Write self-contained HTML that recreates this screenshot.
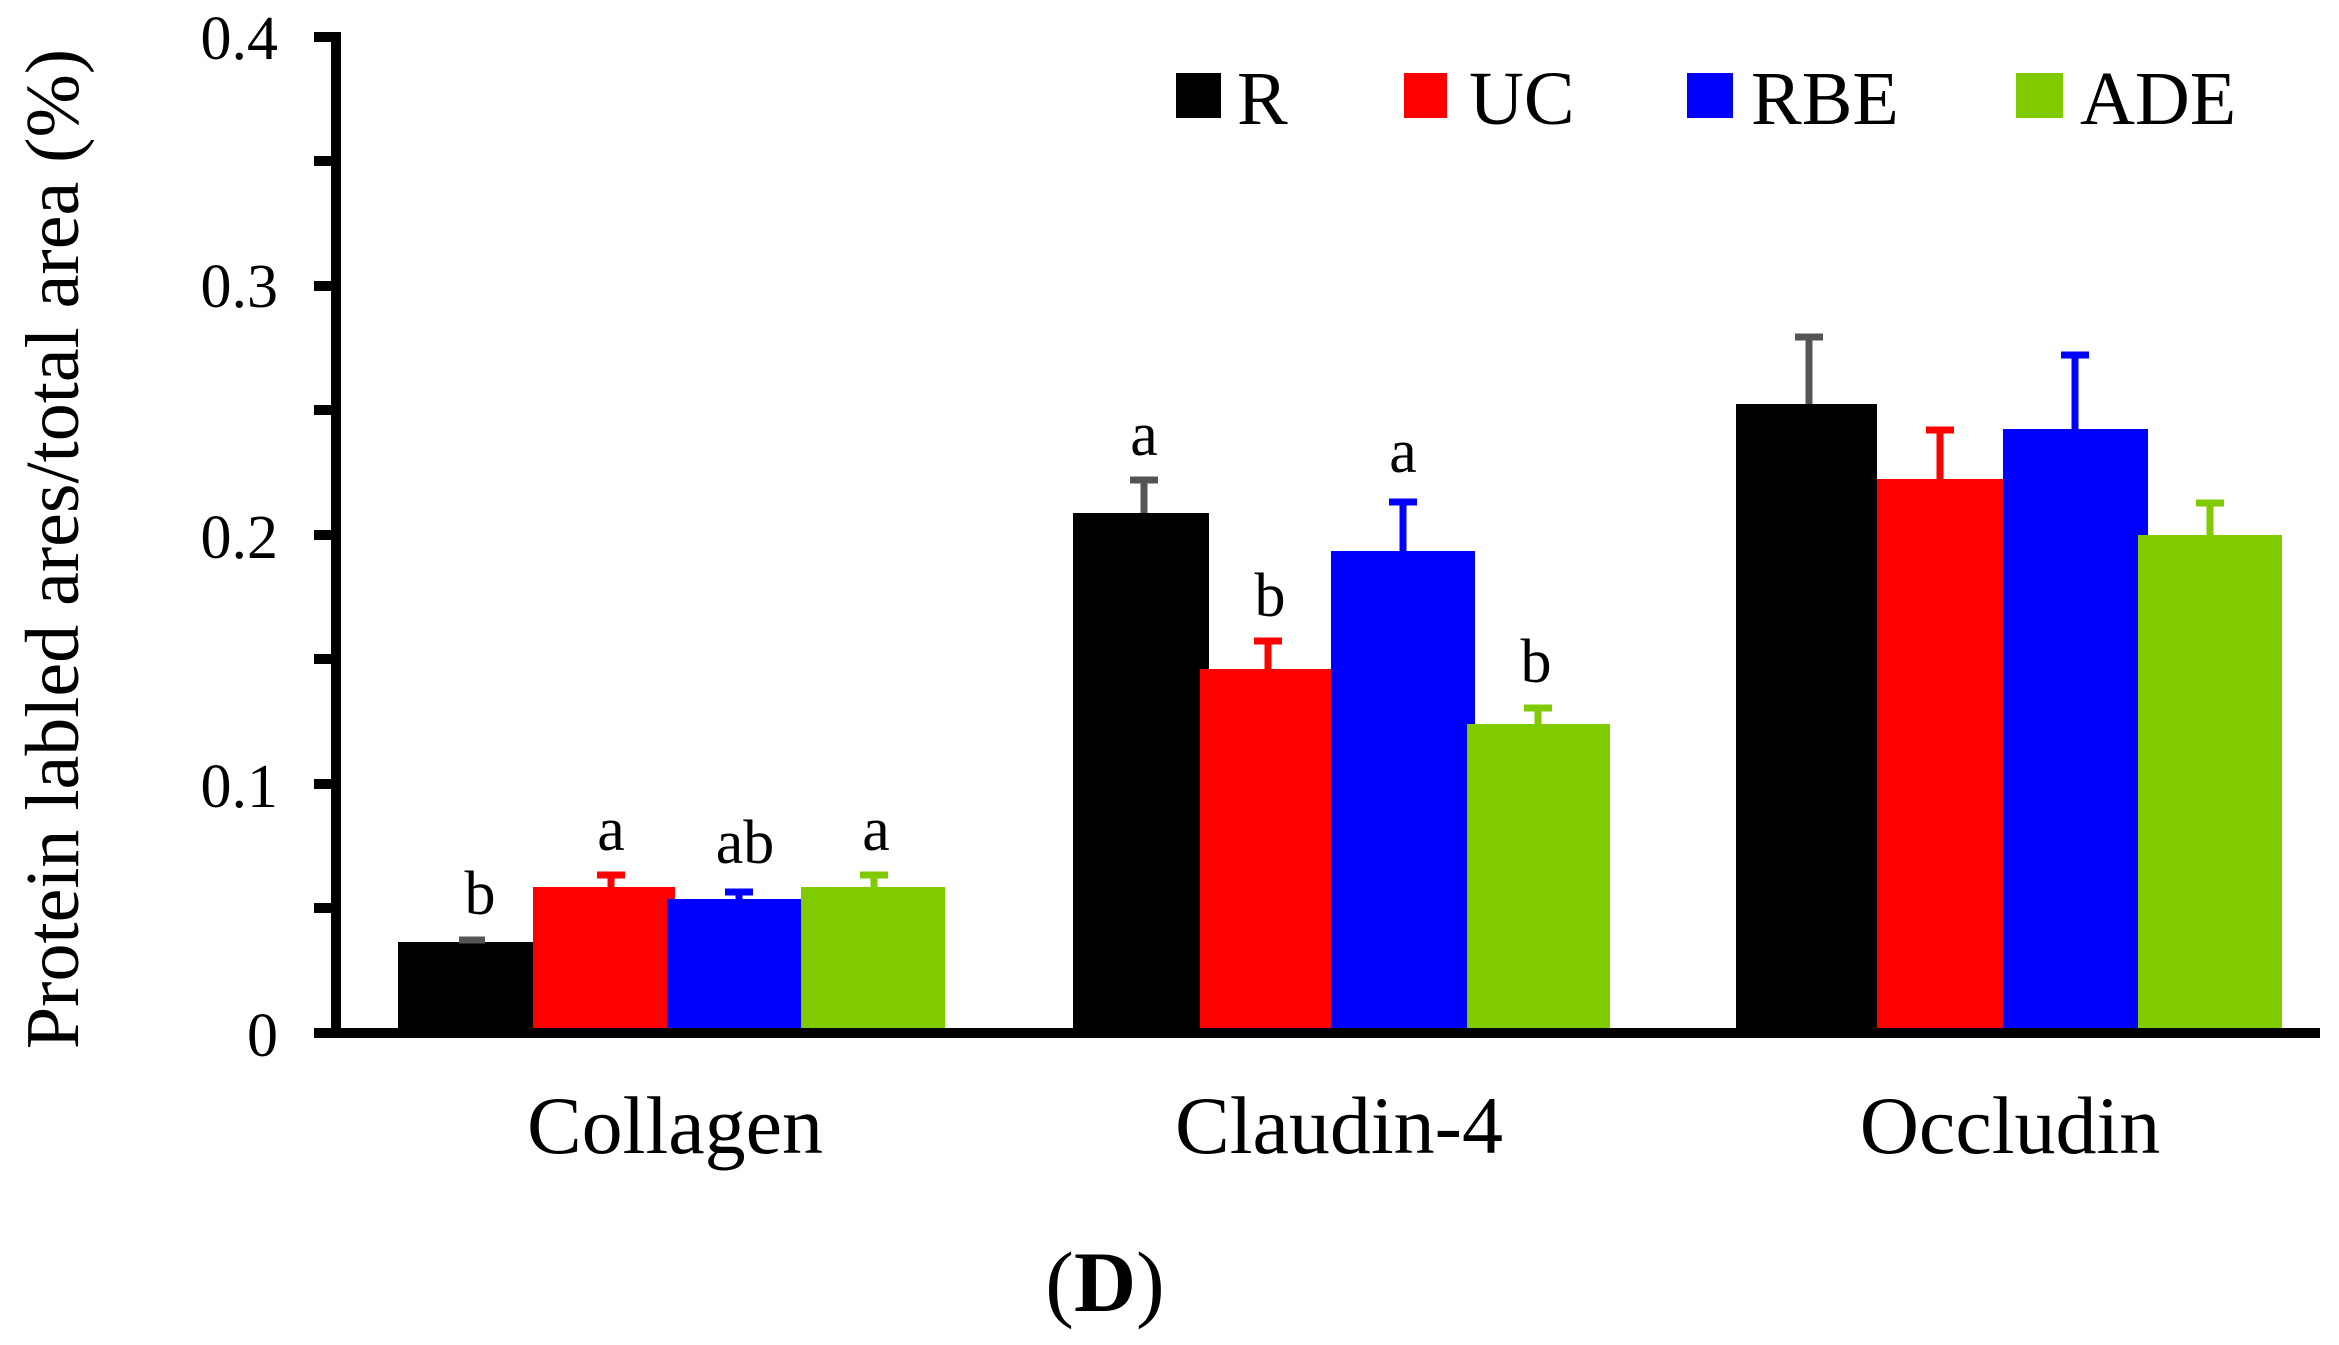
<!DOCTYPE html>
<html><head><meta charset="utf-8"><style>html,body{margin:0;padding:0;background:#fff}svg{display:block}</style></head>
<body>
<svg width="2339" height="1345" viewBox="0 0 2339 1345" xmlns="http://www.w3.org/2000/svg" font-family="'Liberation Serif', serif">
<rect width="2339" height="1345" fill="#fff"/>
<g>
<rect x="398" y="942" width="135" height="86" fill="#000"/>
<rect x="533" y="887" width="142" height="141" fill="#f00"/>
<rect x="667" y="899" width="134" height="129" fill="#00f"/>
<rect x="801" y="887" width="144" height="141" fill="#7fcb00"/>

<rect x="1073" y="513" width="136" height="515" fill="#000"/>
<rect x="1200" y="669" width="131" height="359" fill="#f00"/>
<rect x="1331" y="551" width="144" height="477" fill="#00f"/>
<rect x="1467" y="724" width="143" height="304" fill="#7fcb00"/>

<rect x="1736" y="404" width="141" height="624" fill="#000"/>
<rect x="1877" y="479" width="126" height="549" fill="#f00"/>
<rect x="2003" y="429" width="145" height="599" fill="#00f"/>
<rect x="2138" y="535" width="144" height="493" fill="#7fcb00"/>
</g>
<g stroke-width="7">
<path d="M472 942V940M459 940H485" stroke="#555"/>
<path d="M611 887V875M597 875H625" stroke="#f00"/>
<path d="M739 899V892M725 892H753" stroke="#00f"/>
<path d="M874 887V875M860 875H888" stroke="#7fcb00"/>
<path d="M1144 513V480M1130 480H1158" stroke="#555"/>
<path d="M1268 669V641M1254 641H1282" stroke="#f00"/>
<path d="M1403 551V502M1389 502H1417" stroke="#00f"/>
<path d="M1538 724V708M1524 708H1552" stroke="#7fcb00"/>
<path d="M1809 404V337M1795 337H1823" stroke="#555"/>
<path d="M1940 479V430M1926 430H1954" stroke="#f00"/>
<path d="M2075 429V355M2061 355H2089" stroke="#00f"/>
<path d="M2210 535V503M2196 503H2224" stroke="#7fcb00"/>
</g>
<g fill="#000">
<rect x="331" y="32" width="10" height="1006"/>
<rect x="314" y="1028" width="2006" height="10"/>
<rect x="314" y="32" width="20" height="10"/>
<rect x="314" y="156" width="20" height="10"/>
<rect x="314" y="281" width="20" height="10"/>
<rect x="314" y="405" width="20" height="10"/>
<rect x="314" y="530" width="20" height="10"/>
<rect x="314" y="654" width="20" height="10"/>
<rect x="314" y="779" width="20" height="10"/>
<rect x="314" y="903" width="20" height="10"/>
</g>
<g font-size="62" text-anchor="end" fill="#000" font-family="'Liberation Serif', serif">
<text x="278" y="59">0.4</text>
<text x="278" y="307">0.3</text>
<text x="278" y="558">0.2</text>
<text x="278" y="807">0.1</text>
<text x="278" y="1056">0</text>
</g>
<text transform="translate(78,549) rotate(-90)" font-family="'Liberation Serif', serif" font-size="76" text-anchor="middle">Protein labled ares/total area (%)</text>
<g font-size="62" text-anchor="middle" font-family="'Liberation Serif', serif">
<text x="480" y="914">b</text>
<text x="611" y="850">a</text>
<text x="745" y="863">ab</text>
<text x="876" y="850">a</text>
<text x="1144" y="455">a</text>
<text x="1270" y="616">b</text>
<text x="1403" y="472">a</text>
<text x="1536" y="682">b</text>
</g>
<g font-size="82" text-anchor="middle" font-family="'Liberation Serif', serif">
<text x="675" y="1153">Collagen</text>
<text x="1339" y="1153">Claudin-4</text>
<text x="2010" y="1153">Occludin</text>
</g>
<text x="1105" y="1311" font-size="86" text-anchor="middle" font-family="'Liberation Serif', serif">(<tspan font-weight="bold">D</tspan>)</text>
<rect x="1176" y="73" width="45" height="45" fill="#000"/>
<rect x="1404" y="73" width="43" height="45" fill="#f00"/>
<rect x="1687" y="73" width="46" height="45" fill="#00f"/>
<rect x="2016" y="73" width="47" height="45" fill="#7fcb00"/>
<g font-size="76" font-family="'Liberation Serif', serif">
<text x="1237" y="124">R</text>
<text x="1469" y="124">UC</text>
<text x="1751" y="124">RBE</text>
<text x="2080" y="124">ADE</text>
</g>
</svg>
</body></html>
